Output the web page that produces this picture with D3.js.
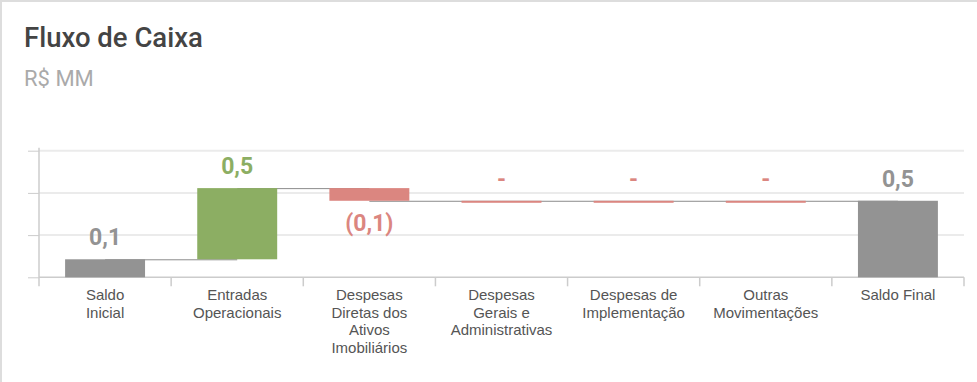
<!DOCTYPE html>
<html><head><meta charset="utf-8">
<script src="https://cdn.jsdelivr.net/npm/d3@7"></script>
<style>html,body{margin:0;padding:0;background:#fff;}svg{display:block;}</style>
</head><body>
<svg id="c" width="977" height="382"></svg>
<script>
const categories = ["Saldo\nInicial","Entradas\nOperacionais","Despesas\nDiretas dos\nAtivos\nImobiliários","Despesas\nGerais e\nAdministrativas","Despesas de\nImplementação","Outras\nMovimentações","Saldo Final"];
const values = [0.128, 0.506, -0.09, 0, 0, 0, 0.544];
const kinds = ["total","delta","delta","delta","delta","delta","total"];
const valueLabels = ["0,1","0,5","(0,1)","-","-","-","0,5"];
const yTicks = [0, 0.3, 0.6, 0.9];

const svg = d3.select("#c");
const W = 977, H = 382;
const m = {left:39, right:13, top:150.7, bottom:104.7};

svg.append("rect").attr("x",1).attr("y",1).attr("width",W+10).attr("height",H+10)
  .attr("fill","none").attr("stroke","#dddddd").attr("stroke-width",2);

svg.append("text").attr("x",24).attr("y",47).text("Fluxo de Caixa")
  .attr("font-family","Roboto").attr("font-weight",500).attr("font-size",27.5).attr("fill","#444");
svg.append("text").attr("x",24).attr("y",86).text("R$ MM")
  .attr("font-family","Roboto").attr("font-size",22).attr("fill","#aaaaaa");

const x = d3.scaleBand().domain(categories).range([m.left, W-m.right]).paddingInner(0.395).paddingOuter(0.1975);
const y = d3.scaleLinear().domain([0,0.9]).range([H-m.bottom, m.top]);

let cum = 0;
const data = categories.map((c,i)=>{
  let start, end;
  if (kinds[i]==="total") { start = 0; end = values[i]; cum = values[i]; }
  else { start = cum; end = cum + values[i]; cum = end; }
  return {c, v:values[i], kind:kinds[i], start, end, level:cum, label:valueLabels[i], i};
});

svg.append("g").selectAll("line").data(yTicks.slice(1)).join("line")
  .attr("x1",m.left).attr("x2",W-m.right).attr("y1",d=>y(d)).attr("y2",d=>y(d))
  .attr("stroke","#ebebeb").attr("stroke-width",2);

const ya = svg.append("g").attr("transform",`translate(${m.left},0)`)
  .call(d3.axisLeft(y).tickValues(yTicks).tickSize(11).tickFormat(""));
ya.select(".domain").remove();
ya.selectAll("line").attr("stroke","#cccccc");
svg.append("line").attr("x1",m.left).attr("x2",m.left).attr("y1",y(0.9)-3).attr("y2",y(0)+9)
  .attr("stroke","#cccccc").attr("stroke-width",1.5);

const step = x.step();
const xa = svg.append("g").attr("transform",`translate(0,${y(0)})`)
  .call(d3.axisBottom(x).tickSize(0).tickFormat(""));
xa.select(".domain").attr("stroke","#cccccc").attr("stroke-width",1.5).attr("d",`M${m.left},0H${W-m.right}`);
svg.append("g").selectAll("line").data(categories.slice(1)).join("line")
  .attr("x1",d=>x(d)-(step-x.bandwidth())/2).attr("x2",d=>x(d)-(step-x.bandwidth())/2)
  .attr("y1",y(0)).attr("y2",y(0)+9).attr("stroke","#cccccc").attr("stroke-width",1.5);
svg.append("line").attr("x1",W-m.right).attr("x2",W-m.right).attr("y1",y(0)).attr("y2",y(0)+9)
  .attr("stroke","#cccccc").attr("stroke-width",1.5);

svg.append("g").selectAll("line").data(data.slice(0,-1)).join("line")
  .attr("x1",d=>x(d.c)+x.bandwidth()/2).attr("x2",d=>x(categories[d.i+1])+x.bandwidth()/2)
  .attr("y1",d=>y(d.level)+0.5).attr("y2",d=>y(d.level)+0.5)
  .attr("stroke","#8c8c8c").attr("stroke-width",1);

const color = d => d.kind==="total" ? "#939393" : (d.v>0 ? "#8cae63" : "#db8680");

svg.append("g").selectAll("rect").data(data).join("rect")
  .attr("x",d=>x(d.c)).attr("width",x.bandwidth())
  .attr("y",d=>Math.min(y(d.start),y(d.end)))
  .attr("height",d=>Math.max(2,Math.abs(y(d.start)-y(d.end))))
  .attr("fill",color);

svg.append("g").selectAll("text").data(data).join("text")
  .attr("x",d=>x(d.c)+x.bandwidth()/2)
  .attr("y",d=> d.v<0 ? y(Math.min(d.start,d.end))+30 : y(Math.max(d.start,d.end))-14)
  .attr("text-anchor","middle").attr("font-family","Roboto").attr("font-weight",700)
  .attr("font-size",23).attr("fill",color).text(d=>d.label);

const cl = svg.append("g").selectAll("text").data(categories).join("text")
  .attr("x",d=>x(d)+x.bandwidth()/2).attr("y",300)
  .attr("text-anchor","middle").attr("font-family","Liberation Sans, Arial").attr("font-size",15).attr("fill","#555");
cl.selectAll("tspan").data(d=>d.split("\n")).join("tspan")
  .attr("x",function(){return this.parentNode.getAttribute("x");})
  .attr("dy",(d,i)=>i===0?0:17.7).text(d=>d);
</script>
</body></html>
